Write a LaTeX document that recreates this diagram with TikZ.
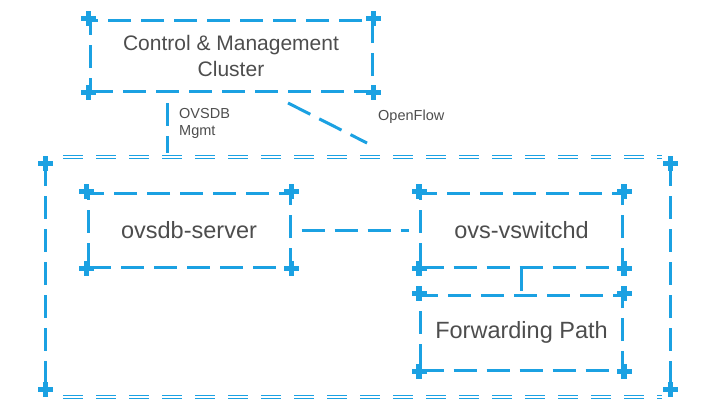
\documentclass[tikz,border=0pt]{standalone}
\usepackage{fontspec}
\setmainfont{Liberation Sans}
\definecolor{ovsblue}{HTML}{1BA1E2}
\definecolor{labelgray}{HTML}{4D4D4D}
\tikzset{
  link/.style={draw=ovsblue, line width=3pt, dash pattern=on 23pt off 10pt},
  rail/.style={draw=ovsblue, line width=1.6pt, double=white, double distance=1.3pt, dash pattern=on 20pt off 13pt},
  box/.style={link, text=labelgray, font=\fontsize{23.5}{28}\selectfont, minimum width=202pt, minimum height=74pt, inner sep=0pt},
  plusarm/.style={fill=ovsblue},
  tag/.style={text=labelgray, font=\fontsize{14.5}{17}\selectfont, inner sep=0pt}
}
\begin{document}
\begin{tikzpicture}[x=1pt,y=-1pt]
  \useasboundingbox (0,0) rectangle (720,405);
  \node[box, minimum width=282pt, minimum height=71pt, align=center, font=\fontsize{21}{26}\selectfont] (ctrl) at (231,55.5) {Control \& Management\\Cluster};
  \node[box] (ovsdb) at (189,230) {ovsdb-server};
  \node[box] (vswitchd) at (521.5,230) {ovs-vswitchd};
  \node[box, minimum height=75pt] (fwd) at (521.5,332.5) {Forwarding Path};
  \node[minimum width=624pt, minimum height=226pt, inner sep=0pt] (host) at (358,276.5) {};

  \draw[link] (host.north west) -- (host.south west);
  \draw[link] (host.north east) -- (host.south east);
  \coordinate (topl) at (63,157);
  \coordinate (topr) at (662,157);
  \coordinate (botl) at (63,397);
  \coordinate (botr) at (662,397);
  \draw[rail] (topl) -- (topr);
  \draw[rail] (botl) -- (botr);

  \foreach \n in {ctrl, ovsdb, vswitchd, fwd, host}
    \foreach \c in {north west, north east, south west, south east}{
      \fill[plusarm] ([shift={(-7.5pt,-2.6pt)}]\n.\c) rectangle ([shift={(7.5pt,2.6pt)}]\n.\c);
      \fill[plusarm] ([shift={(-2.6pt,-7.5pt)}]\n.\c) rectangle ([shift={(2.6pt,7.5pt)}]\n.\c);
    }

  \coordinate (mgmta) at (167,103);
  \coordinate (mgmtb) at (167,153);
  \draw[link] (mgmta) -- (mgmtb);
  \node[tag, anchor=north west, align=left] (mgmt) at (179,108) {OVSDB\\Mgmt};

  \coordinate (ofa) at (288,103);
  \coordinate (ofb) at (367,143);
  \draw[link, dash pattern=on 25pt off 10pt] (ofa) -- (ofb);
  \node[tag, anchor=west] (of) at (378,117) {OpenFlow};

  \draw[link] ([xshift=10pt]ovsdb.east) -- ([xshift=-10pt]vswitchd.west);
  \draw[link, dash pattern=on 22pt off 6pt] (vswitchd.south) -- (fwd.north);
\end{tikzpicture}
\end{document}
